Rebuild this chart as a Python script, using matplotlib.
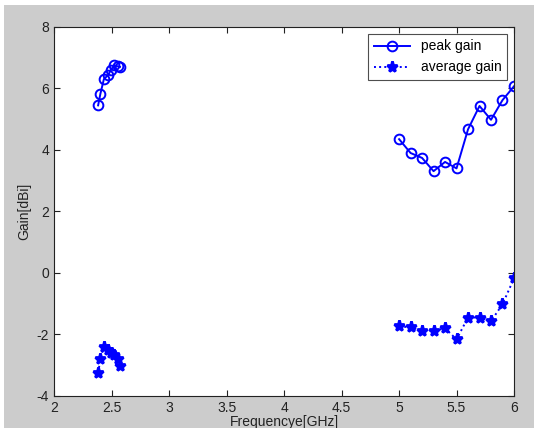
import matplotlib
matplotlib.use("Agg")
import matplotlib.pyplot as plt
import numpy as np
from matplotlib.patches import Rectangle

plt.rcParams['font.family'] = ['Liberation Sans', 'DejaVu Sans']
plt.rcParams['axes.unicode_minus'] = False

# Low band (2.4 GHz)
freq_low = [2.38, 2.40, 2.43, 2.47, 2.49, 2.52, 2.55, 2.57]
peak_low = [5.45, 5.83, 6.30, 6.45, 6.60, 6.75, 6.72, 6.70]
avg_low = [-3.25, -2.80, -2.40, -2.50, -2.60, -2.68, -2.80, -3.02]

# High band (5 GHz)
freq_high = [5.0, 5.1, 5.2, 5.3, 5.4, 5.5, 5.6, 5.7, 5.8, 5.9, 6.0]
peak_high = [4.35, 3.90, 3.74, 3.31, 3.61, 3.40, 4.67, 5.43, 4.98, 5.62, 6.07]
avg_high = [-1.74, -1.77, -1.88, -1.88, -1.80, -2.16, -1.45, -1.45, -1.57, -1.02, -0.18]

xticks = [2, 2.5, 3, 3.5, 4, 4.5, 5, 5.5, 6]
xticklabels = ['2', '2.5', '3', '3.5', '4', '4.5', '5', '5.5', '6']
yticks = [-4, -2, 0, 2, 4, 6, 8]

fig = plt.figure(figsize=(5.34, 4.28), dpi=100, facecolor='white')
fig.patches.append(Rectangle((4/534, 0), 1, 1 - 5/428, transform=fig.transFigure,
                             facecolor='#cccccc', edgecolor='none', zorder=-10))
ax = fig.add_axes([0.102, 0.075, 0.8605, 0.862])
ax.set_facecolor('white')

blue = '#0000ff'
pk = dict(color=blue, linestyle='-', linewidth=1.4, marker='o', markersize=7,
          markerfacecolor='none', markeredgewidth=1.4)
av = dict(color=blue, linestyle=':', linewidth=1.4, marker='*', markersize=8,
          markeredgewidth=2.0)

ax.plot(freq_low, peak_low, label='peak gain', **pk)
ax.plot(freq_high, peak_high, **pk)
ax.plot(freq_low, avg_low, label='average gain', **av)
ax.plot(freq_high, avg_high, **av)

ax.set_xlim(2, 6)
ax.set_ylim(-4, 8)
ax.set_xticks(xticks)
ax.set_xticklabels(xticklabels)
ax.set_yticks(yticks)
ax.tick_params(direction='in', top=True, right=True, length=4, labelsize=10,
               colors='#222222', pad=4)
for s in ax.spines.values():
    s.set_color('#222222')
    s.set_linewidth(0.8)

ax.set_xlabel('Frequencye[GHz]', fontsize=10, color='#222222', labelpad=0)
ax.set_ylabel('Gain[dBi]', fontsize=10, color='#222222', labelpad=4)

leg = ax.legend(loc='upper right', fontsize=10, frameon=True, fancybox=False,
                borderaxespad=0.5, handlelength=2.6, edgecolor='#222222')
leg.get_frame().set_linewidth(0.8)

fig.savefig('out.png', dpi=100, facecolor=fig.get_facecolor())
